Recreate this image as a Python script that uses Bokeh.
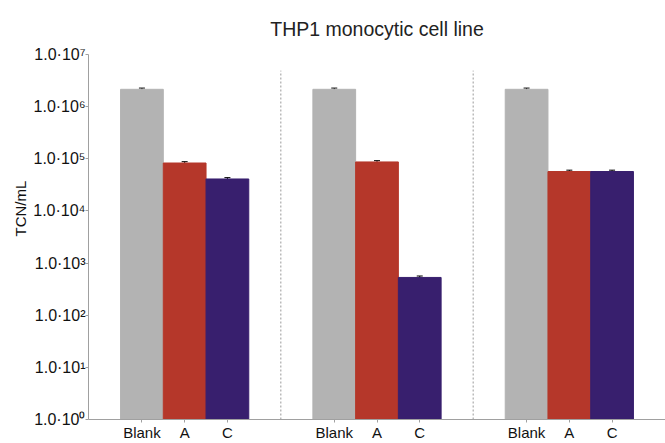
from bokeh.plotting import figure
from bokeh.models import FixedTicker, CustomJSTickFormatter, Range1d, Whisker, ColumnDataSource, Title
from bokeh.embed import file_html
from bokeh.resources import INLINE

treatments = ["Blank", "A", "C"]
values = [
    [2.15e6, 8.3e4, 4.1e4],
    [2.15e6, 8.7e4, 5.3e2],
    [2.15e6, 5.7e4, 5.7e4],
]
errors = [
    [1.2e5, 5.0e3, 2.5e3],
    [1.2e5, 5.0e3, 3.5e1],
    [1.2e5, 3.5e3, 3.5e3],
]
colors = ["#b3b3b3", "#b5372a", "#381f6e"]
y_ticks = [1, 10, 100, 1e3, 1e4, 1e5, 1e6, 1e7]
separator_top = 4.9e6
title_text = "THP1 monocytic cell line"
y_label_text = "TCN/mL"

pad = 0.75
gw = 2 * pad + len(treatments)

xs, tops, cols, lo, hi, labels = [], [], [], [], [], {}
for g, row in enumerate(values):
    for i, v in enumerate(row):
        x = g * gw + pad + i + 0.5
        xs.append(x)
        tops.append(v)
        cols.append(colors[i])
        lo.append(v - errors[g][i])
        hi.append(v + errors[g][i])
        labels[x] = treatments[i]

src = ColumnDataSource(dict(x=xs, top=tops, color=cols, lower=lo, upper=hi))

p = figure(width=665, height=443, y_axis_type="log", output_backend="svg",
           toolbar_location=None, x_range=Range1d(0, gw * len(values)),
           y_range=Range1d(1, 1e7), min_border_left=88, min_border_right=0,
           min_border_top=54, min_border_bottom=22)

p.vbar(x="x", top="top", bottom=1, width=1.0, color="color", source=src)
w = Whisker(base="x", lower="lower", upper="upper", source=src, line_color="black",
            line_width=1)
w.upper_head.size = 6
w.lower_head.size = 6
w.upper_head.line_color = "black"
w.lower_head.line_color = "black"
p.add_layout(w)

sep_x = [gw * (g + 1) for g in range(len(values) - 1)]
sep_src = ColumnDataSource(dict(x0=sep_x, x1=sep_x, y0=[1] * len(sep_x),
                                y1=[separator_top] * len(sep_x)))
p.segment(x0="x0", x1="x1", y0="y0", y1="y1", source=sep_src, line_color="#999999",
          line_width=1, line_dash="2 2")

p.title.text = title_text
p.title.text_font = "Liberation Sans"
p.title.text_font_size = "19.5px"
p.title.text_font_style = "normal"
p.title.align = "center"
p.title.vertical_align = "bottom"
p.title.standoff = 30
p.title.text_color = "#222222"

ylab = Title(text=y_label_text, align="left", offset=183, text_font="Liberation Sans",
             text_font_size="15px", text_font_style="normal", text_color="#111111",
             standoff=4)
p.add_layout(ylab, "left")

p.grid.visible = False
p.outline_line_color = None

p.xaxis.ticker = FixedTicker(ticks=xs)
p.xaxis.major_label_overrides = labels
p.xaxis.major_tick_in = 0
p.xaxis.major_tick_out = 3
p.xaxis.minor_tick_line_color = None
p.xaxis.axis_line_color = "#a0a0a0"
p.xaxis.major_tick_line_color = "#a0a0a0"
p.xaxis.major_label_text_font = "Liberation Sans"
p.xaxis.major_label_text_font_size = "15px"
p.xaxis.major_label_text_color = "#111111"
p.xaxis.major_label_standoff = 1

p.yaxis.ticker = FixedTicker(ticks=y_ticks)
p.yaxis.formatter = CustomJSTickFormatter(code="""
const sup = {'0':'\u2070','1':'\u00b9','2':'\u00b2','3':'\u00b3','4':'\u2074','5':'\u2075','6':'\u2076','7':'\u2077','8':'\u2078','9':'\u2079'};
const e = Math.round(Math.log10(tick));
return '1.0\u00b710' + String(e).split('').map(c => sup[c]).join('');
""")
p.yaxis.major_tick_in = 0
p.yaxis.major_tick_out = 3
p.yaxis.minor_tick_line_color = None
p.yaxis.axis_line_color = "#a0a0a0"
p.yaxis.major_tick_line_color = "#a0a0a0"
p.yaxis.major_label_text_font = "Liberation Sans"
p.yaxis.major_label_text_font_size = "16px"
p.yaxis.major_label_text_color = "#111111"
p.yaxis.major_label_standoff = 0

open("out.html", "w").write(file_html(p, INLINE))
